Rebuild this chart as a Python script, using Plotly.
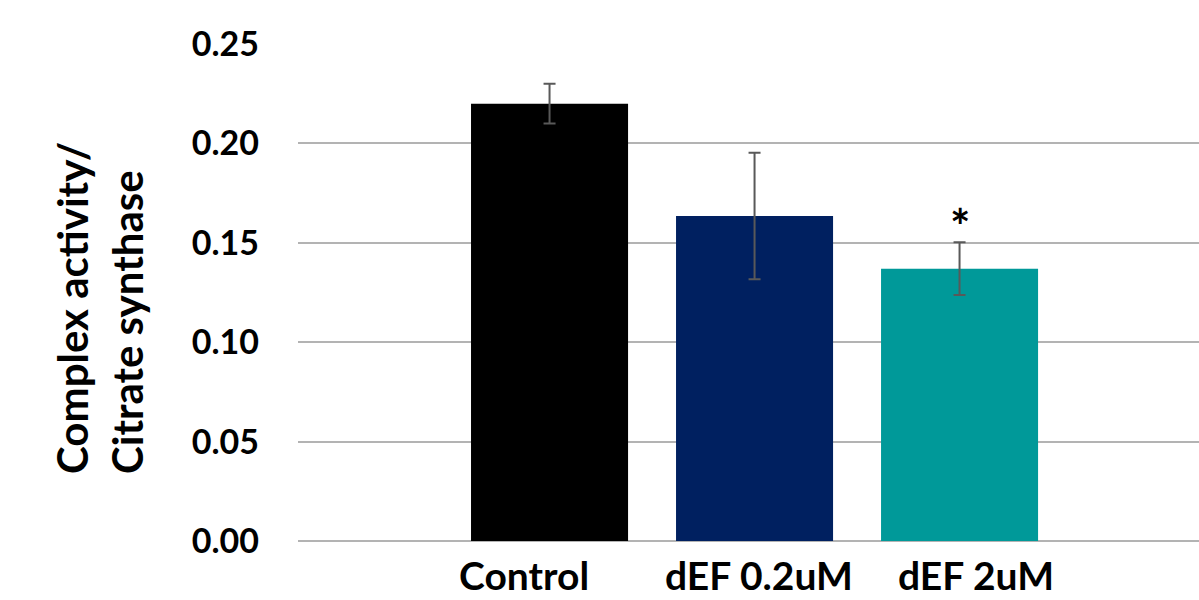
import plotly.graph_objects as go

# Data
categories = ["Control", "dEF 0.2uM", "dEF 2uM"]
means = [0.220, 0.1635, 0.137]
errors = [0.010, 0.0318, 0.0133]
bar_colors = ["#000000", "#002060", "#009999"]
y_ticks = [0.00, 0.05, 0.10, 0.15, 0.20, 0.25]
significance = ["", "", "*"]

FONT = "Lato"

fig = go.Figure()
fig.add_trace(go.Bar(
    x=categories,
    y=means,
    width=0.766,
    marker=dict(color=bar_colors, line=dict(width=0)),
    error_y=dict(type="data", array=errors, visible=True,
                 color="#595959", thickness=2, width=6),
    showlegend=False,
))

# Plot area in pixels: left 298, right 1199, top 44, bottom 541
L, R, T, B = 298, 1199, 44, 541


def px_x(p):
    return (p - L) / (R - L)


def px_y(p):
    return (B - p) / (B - T)


annotations = []

# Category labels under the bars
label_shift = [-26, 4, 16]
for cat, dx in zip(categories, label_shift):
    annotations.append(dict(
        x=cat, xref="x", y=0, yref="paper", yanchor="top", xanchor="center",
        xshift=dx, yshift=-9, text=f"<b>{cat}</b>", showarrow=False,
        font=dict(family=FONT, size=39, color="#000000"),
    ))

# Significance marks above error bars
for cat, m, e, s in zip(categories, means, errors, significance):
    if s:
        annotations.append(dict(
            x=cat, xref="x", y=m + e, yref="y", yanchor="bottom",
            xanchor="center", yshift=-14, text=f"<b>{s}</b>", showarrow=False,
            font=dict(family=FONT, size=48, color="#000000"),
        ))

# Two-line y-axis title, lines aligned at their start
for text, cx in [("Complex activity/", 72), ("Citrate synthase", 127)]:
    annotations.append(dict(
        x=px_x(cx), xref="paper", y=px_y(476), yref="paper",
        xanchor="center", yanchor="bottom", textangle=-90,
        text=f"<b>{text}</b>", showarrow=False,
        font=dict(family=FONT, size=42, color="#000000"),
    ))

fig.update_layout(
    width=1199, height=600,
    margin=dict(l=L, r=1199 - R, t=T, b=600 - B, autoexpand=False),
    paper_bgcolor="white", plot_bgcolor="white",
    bargap=0.234,
    annotations=annotations,
    xaxis=dict(
        type="category", range=[-1.227, 3.168], showticklabels=False,
        showgrid=False, zeroline=False, showline=False, ticks="",
    ),
    yaxis=dict(
        range=[0, 0.25], tickvals=y_ticks, tickformat=".2f",
        showgrid=True, gridcolor="#b3b3b3", gridwidth=2,
        zeroline=True, zerolinecolor="#b3b3b3", zerolinewidth=2,
        showline=False, ticks="", ticklabelstandoff=38,
        tickfont=dict(family=FONT, size=34, color="#000000", weight="bold"),
    ),
)

fig.write_html("out.html")
